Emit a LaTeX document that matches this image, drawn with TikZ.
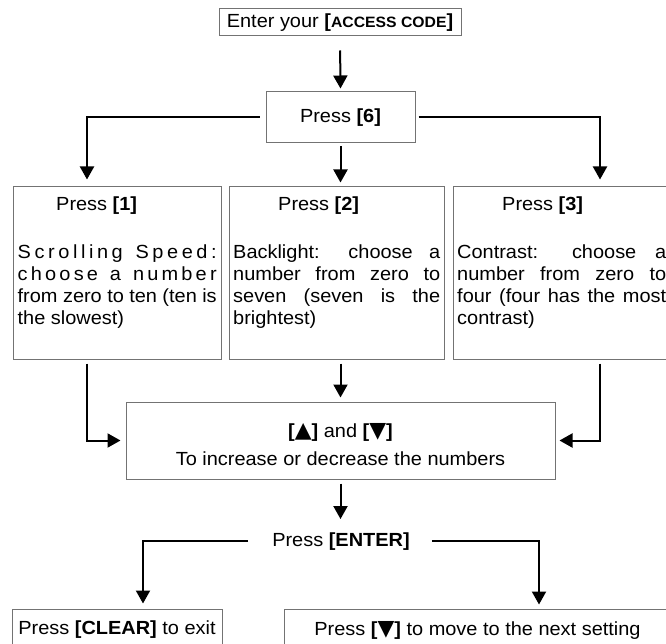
\documentclass[tikz,border=0pt]{standalone}
\usepackage{fontspec}
\setmainfont{Liberation Sans}[FakeStretch=1.05]
\newfontfamily\symf{DejaVu Sans}[Scale=1.15]
\usetikzlibrary{arrows.meta}
\newcommand\lsp{\hskip 0pt plus 1fil\relax}
\newcommand\bodyfont{\fontsize{19}{22}\selectfont}
\newcommand\uptri{{\symf ▲}}
\newcommand\dntri{{\symf ▼}}
\tikzset{
  box/.style={draw=black!55, line width=1pt, inner sep=0pt, font=\bodyfont},
  conn/.style={line width=2pt, -{Triangle[width=14pt,length=13pt]}},
  lbl/.style={inner sep=0pt, anchor=base, font=\bodyfont},
  para/.style={inner sep=0pt, anchor=north west, font=\bodyfont},
}
\begin{document}
\begin{tikzpicture}[x=1pt,y=-1pt]
\useasboundingbox (0,0) rectangle (666,644);
\clip (0,0) rectangle (666,644);

% boxes
\node[box, minimum width=242pt, minimum height=27pt] (a) at (340,22.5)
  {Enter your \textbf{[{\fontsize{15}{18}\selectfont ACCESS CODE}]}};
\node[box, minimum width=149pt, minimum height=51pt] (b) at (340.5,117.5) {Press \textbf{[6]}};
\node[box, minimum width=208pt, minimum height=172pt] (b1) at (117,273) {};
\node[box, minimum width=215pt, minimum height=172pt] (b2) at (336.5,273) {};
\node[box, minimum width=217pt, minimum height=172pt] (b3) at (561.5,273) {};
\node[box, minimum width=429pt, minimum height=77pt] (b4) at (340.5,440.5) {};
\node[box, minimum width=210pt, minimum height=42pt] (f) at (117,630) {Press \textbf{[CLEAR]} to exit};
\node[box, minimum width=387pt, minimum height=42pt] (g) at (477.5,630) {Press \textbf{[\dntri]} to move to the next setting};

% texts inside boxes
\node[para] (t1) at (17.5,195.3) {\parbox[t]{199pt}{\bodyfont
  \strut\hspace*{38.5pt}Press \textbf{[1]}\par
  \vspace{25.6pt}
  \makebox[199pt][s]{S\lsp c\lsp r\lsp o\lsp l\lsp l\lsp i\lsp n\lsp g\lsp\ \lsp S\lsp p\lsp e\lsp e\lsp d\lsp :}\par
  \makebox[199pt][s]{c\lsp h\lsp o\lsp o\lsp s\lsp e\lsp\ \lsp a\lsp\ \lsp n\lsp u\lsp m\lsp b\lsp e\lsp r}\par
  \makebox[199pt][s]{from zero to ten (ten is}\par
  the slowest)}};
\node[para] (t2) at (233,195.3) {\parbox[t]{207pt}{\bodyfont
  \strut\hspace*{45pt}Press \textbf{[2]}\par
  \vspace{25.6pt}
  \makebox[207pt][s]{Backlight: choose a}\par
  \makebox[207pt][s]{number from zero to}\par
  \makebox[207pt][s]{seven (seven is the}\par
  brightest)}};
\node[para] (t3) at (457,195.3) {\parbox[t]{209pt}{\bodyfont
  \strut\hspace*{45pt}Press \textbf{[3]}\par
  \vspace{25.6pt}
  \makebox[209pt][s]{Contrast: choose a}\par
  \makebox[209pt][s]{number from zero to}\par
  \makebox[209pt][s]{four (four has the most}\par
  contrast)}};
\node[lbl] (u1) at (340.5,437.3) {\textbf{[\uptri]} and \textbf{[\dntri]}};
\node[lbl] (u2) at (340.5,465) {To increase or decrease the numbers};
\node[lbl] (e) at (341,546) {Press \textbf{[ENTER]}};

% bend columns
\coordinate (kL) at (87,0);
\coordinate (kR) at (600,0);
\coordinate (kBL) at (143,0);
\coordinate (kBR) at (539,0);

% connectors
\draw[conn, shorten <=14pt, shorten >=3pt] (a.south) -- (b.north);
\draw[conn, shorten <=6pt, shorten >=7pt] (b.west) -| (b1.north -| kL);
\draw[conn, shorten <=3pt, shorten >=7pt] (b.east) -| (b3.north -| kR);
\draw[conn, shorten <=3pt, shorten >=4pt] (b.south) -- (b.south |- b2.north);
\draw[conn, shorten <=4pt, shorten >=5pt] (b1.south -| kL) |- (b4.west);
\draw[conn, shorten <=4pt, shorten >=4pt] (b3.south -| kR) |- (b4.east);
\draw[conn, shorten <=4pt, shorten >=4pt] (b2.south -| b4.north) -- (b4.north);
\draw[conn, shorten <=4pt, shorten >=13pt] (b4.south) -- (b4.south |- e.north);
\draw[conn, shorten <=24pt, shorten >=5pt] (e.west) -| (f.north -| kBL);
\draw[conn, shorten <=22pt, shorten >=4pt] (e.east) -| (g.north -| kBR);
\end{tikzpicture}
\end{document}
